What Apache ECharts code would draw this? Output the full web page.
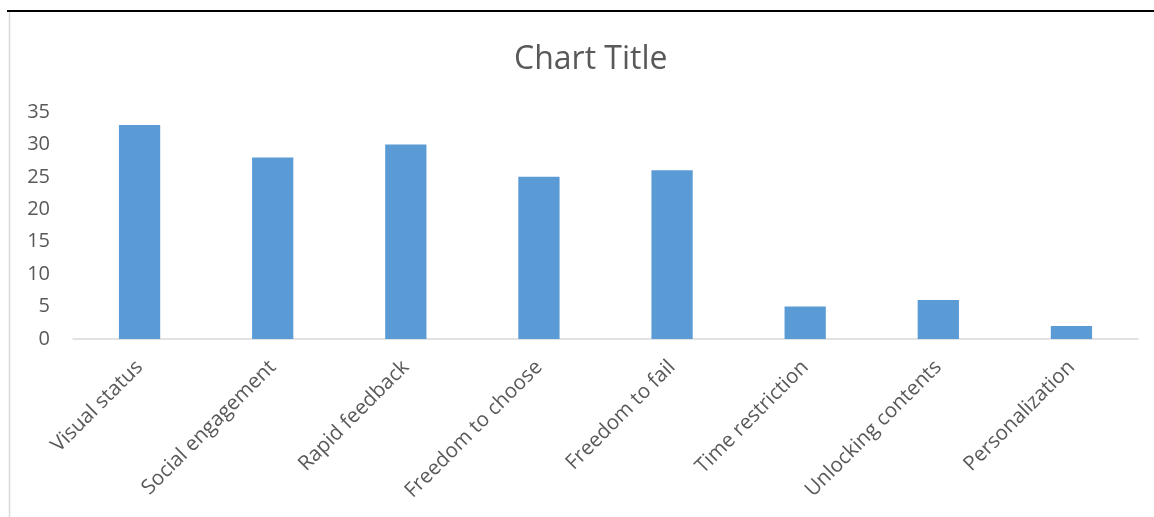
<!DOCTYPE html>
<html><head><meta charset="utf-8">
<script src="https://cdn.jsdelivr.net/npm/echarts@6/dist/echarts.min.js"></script>
<style>html,body{margin:0;padding:0;background:#fff}#c{width:1154px;height:517px}</style>
</head><body><div id="c"></div>
<script>
const categories = ["Visual status","Social engagement","Rapid feedback","Freedom to choose","Freedom to fail","Time restriction","Unlocking contents","Personalization"];
const values = [33,28,30,25,26,5,6,2];
const chart = echarts.init(document.getElementById('c'));
chart.setOption({
  animation:false,
  title:{text:'Chart Title',left:509,top:39,textStyle:{fontFamily:'Open Sans',fontSize:32,fontWeight:'normal',color:'#595959'}},
  graphic:[
    {type:'line',shape:{x1:7,y1:11,x2:1154,y2:11},style:{stroke:'#000',lineWidth:2}},
    {type:'line',shape:{x1:9.5,y1:12,x2:9.5,y2:517},style:{stroke:'#d9d9d9',lineWidth:1.5}}
  ],
  grid:{left:73,right:16,top:112,bottom:178,containLabel:false},
  xAxis:{type:'category',data:categories,
    axisLine:{lineStyle:{color:'#d9d9d9',width:1.5}},axisTick:{show:false},
    axisLabel:{rotate:45,interval:0,fontFamily:'Open Sans',fontSize:20.5,color:'#595959',margin:25}},
  yAxis:{type:'value',min:0,max:35,interval:5,splitLine:{show:false},axisLine:{show:false},axisTick:{show:false},
    axisLabel:{fontFamily:'Open Sans',fontSize:20,color:'#595959',margin:23}},
  series:[{type:'bar',data:values,barWidth:'31%',itemStyle:{color:'#5b9bd5'}}]
});
</script></body></html>
